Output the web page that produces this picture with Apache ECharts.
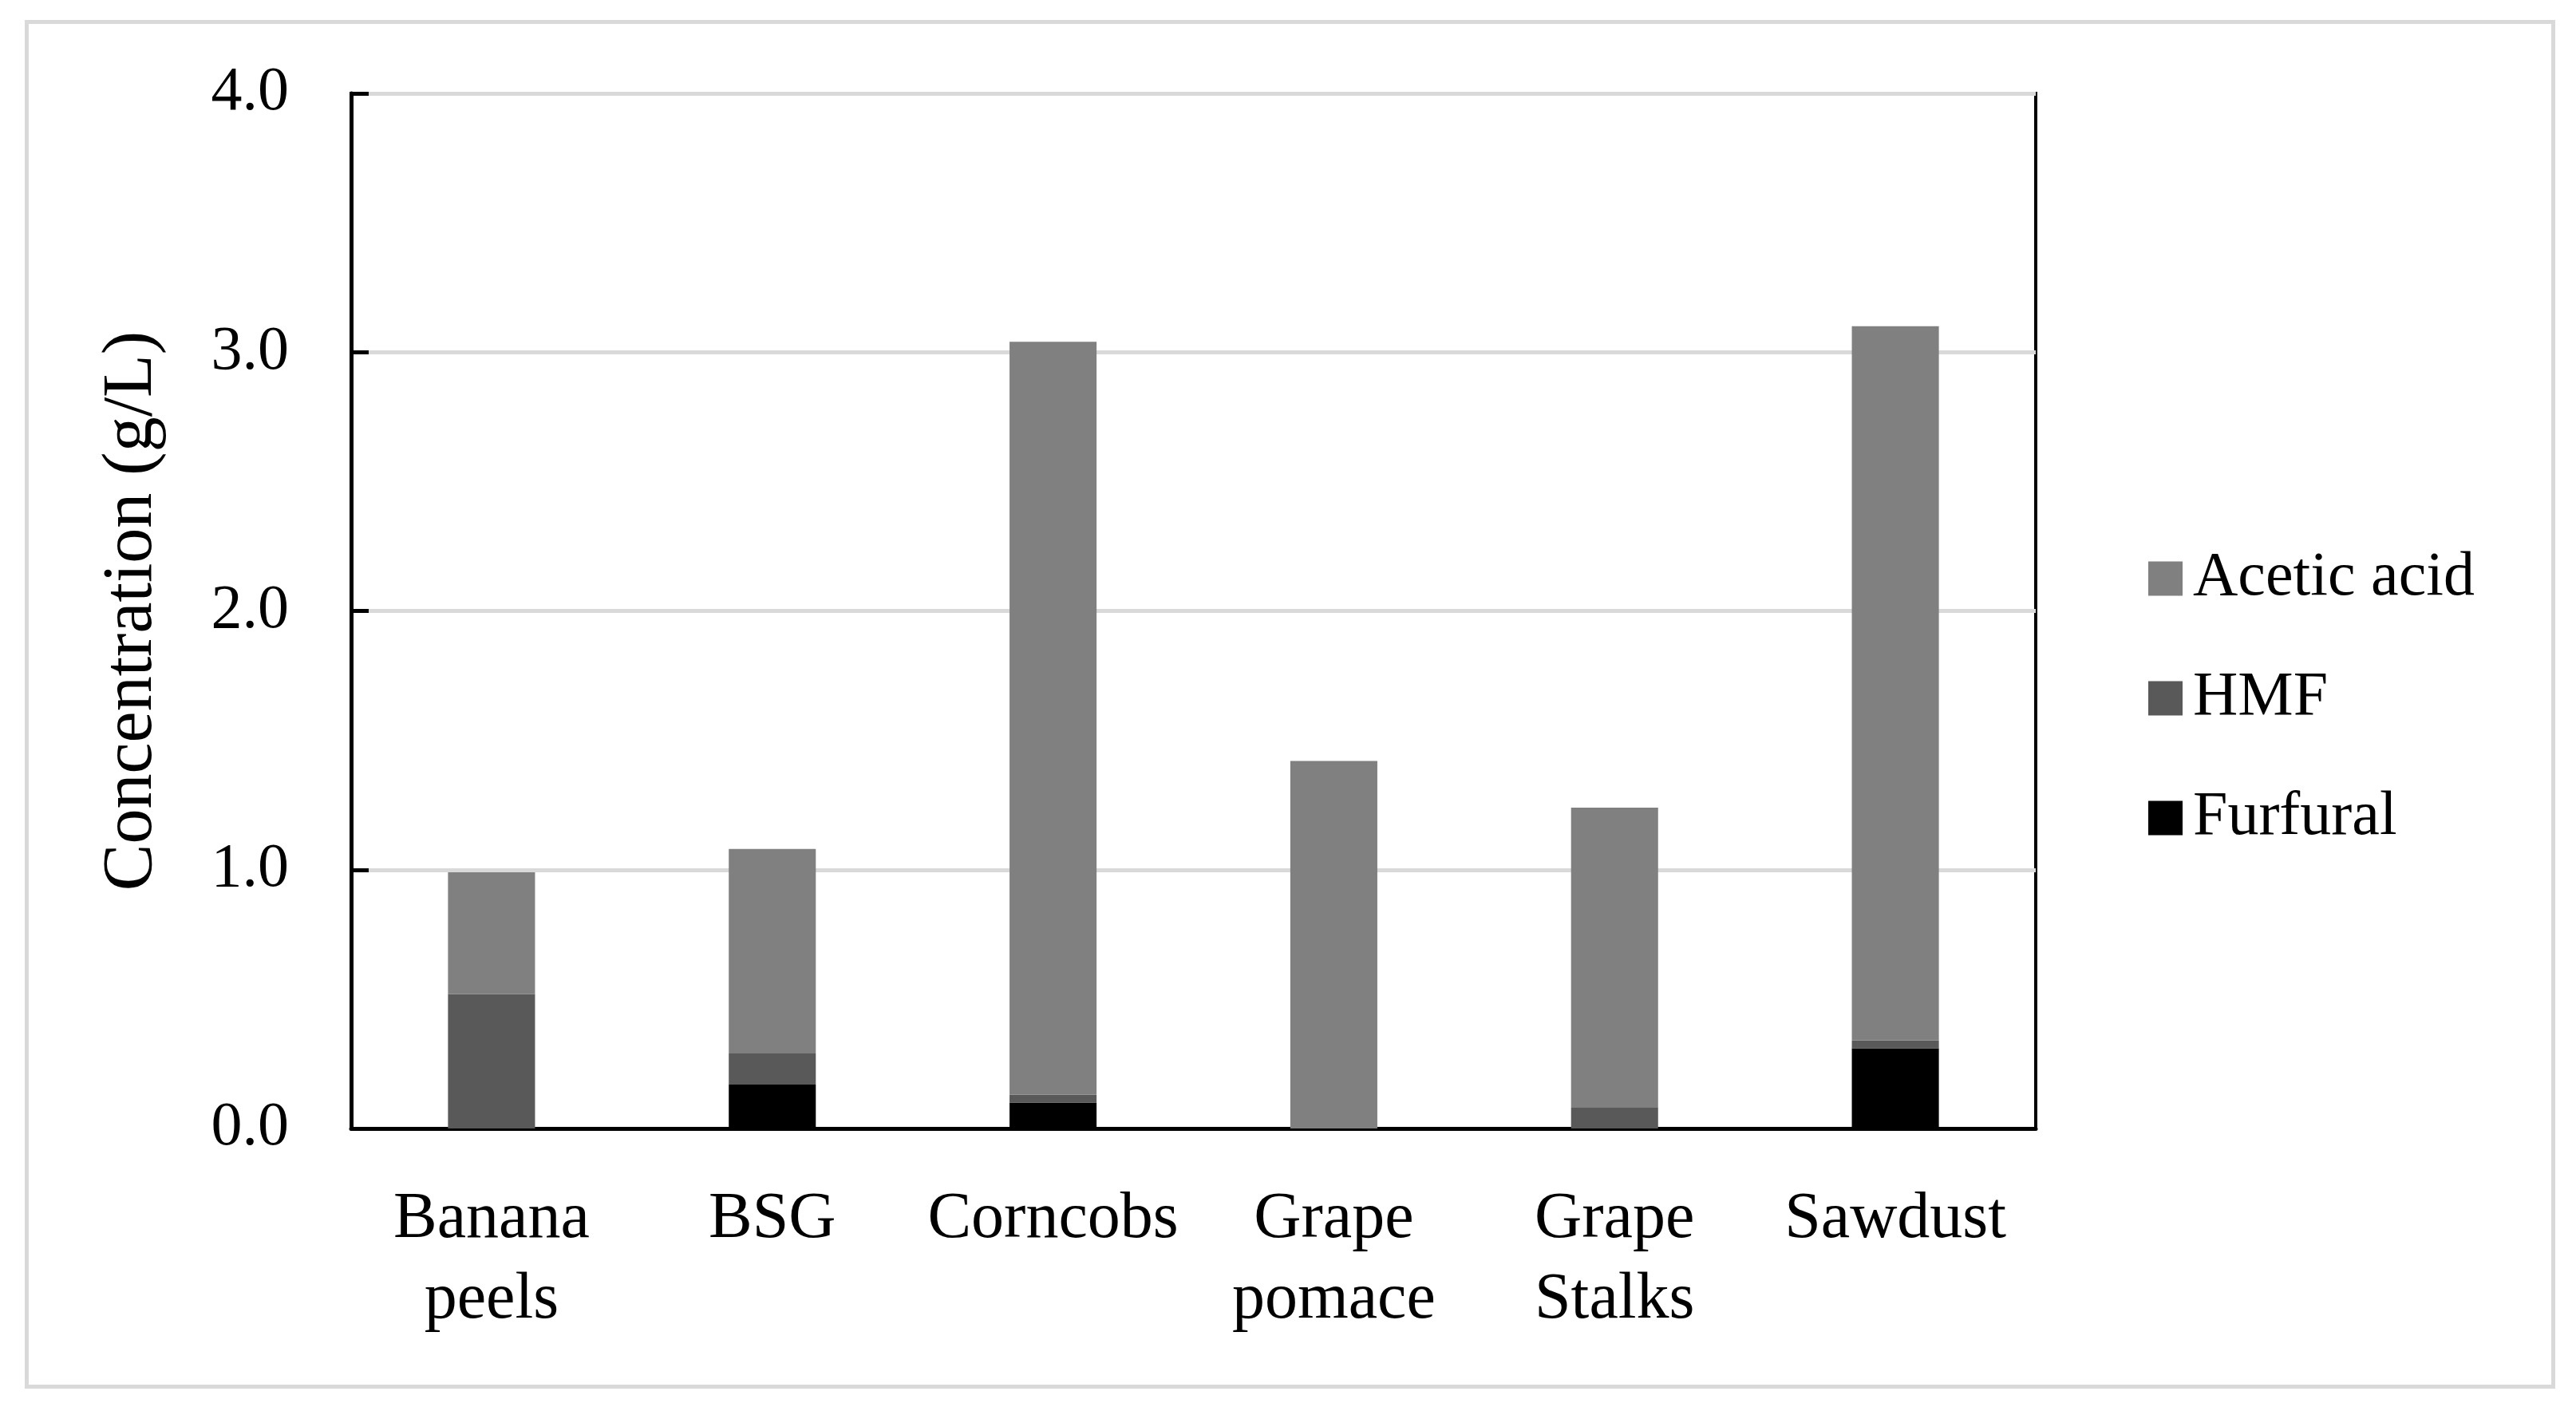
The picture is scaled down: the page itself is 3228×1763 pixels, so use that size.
<!DOCTYPE html>
<html>
<head>
<meta charset="utf-8">
<script src="https://cdn.jsdelivr.net/npm/echarts@6/dist/echarts.min.js"></script>
<style>
html,body{margin:0;padding:0;background:#fff;}
#chart{width:3228px;height:1763px;}
</style>
</head>
<body>
<div id="chart"></div>
<script>
const categories = ['Banana\npeels', 'BSG', 'Corncobs', 'Grape\npomace', 'Grape\nStalks', 'Sawdust'];
const furfural = [0, 0.17, 0.10, 0, 0, 0.31];
const hmf = [0.52, 0.12, 0.03, 0, 0.08, 0.03];
const aceticAcid = [0.47, 0.79, 2.91, 1.42, 1.16, 2.76];
const yTicks = [0, 1, 2, 3, 4];

const FONT = 'Liberation Serif';
const FS = 78;

const chart = echarts.init(document.getElementById('chart'));
chart.setOption({
  backgroundColor: '#ffffff',
  animation: false,
  graphic: [{
    type: 'rect',
    left: 31, top: 25,
    shape: {width: 3166, height: 1710},
    style: {fill: 'none', stroke: '#d9d9d9', lineWidth: 5},
    silent: true
  }],
  grid: {
    left: 440, right: 677, top: 117, bottom: 349,
    show: true, borderColor: '#000', borderWidth: 4, backgroundColor: 'transparent'
  },
  legend: {
    orient: 'vertical',
    left: 2687, top: 681,
    itemWidth: 43, itemHeight: 43, itemGap: 72,
    icon: 'rect',
    data: ['Acetic acid', 'HMF', 'Furfural'],
    textStyle: {fontFamily: FONT, fontSize: FS, color: '#000', padding: [0, 0, 0, 8]}
  },
  xAxis: {
    type: 'category',
    data: categories,
    axisLine: {show: true, lineStyle: {color: '#000', width: 5}},
    axisTick: {show: false},
    axisLabel: {fontFamily: FONT, fontSize: 82, color: '#000', lineHeight: 101, margin: 64, interval: 0}
  },
  yAxis: {
    type: 'value',
    min: yTicks[0], max: yTicks[yTicks.length - 1], interval: 1,
    name: 'Concentration (g/L)',
    nameLocation: 'middle',
    nameGap: 230,
    nameTextStyle: {fontFamily: FONT, fontSize: 88, color: '#000'},
    axisLine: {show: true, lineStyle: {color: '#000', width: 5}},
    axisTick: {show: true, inside: true, length: 22, lineStyle: {color: '#000', width: 5}},
    axisLabel: {fontFamily: FONT, fontSize: FS, color: '#000', margin: 78,
      formatter: v => v.toFixed(1)},
    splitLine: {show: true, lineStyle: {color: '#d9d9d9', width: 5}}
  },
  series: [
    {name: 'Furfural', type: 'bar', stack: 'total', data: furfural, barWidth: '31%', itemStyle: {color: '#000000'}},
    {name: 'HMF', type: 'bar', stack: 'total', data: hmf, barWidth: '31%', itemStyle: {color: '#595959'}},
    {name: 'Acetic acid', type: 'bar', stack: 'total', data: aceticAcid, barWidth: '31%', itemStyle: {color: '#808080'}}
  ]
});
</script>
</body>
</html>
